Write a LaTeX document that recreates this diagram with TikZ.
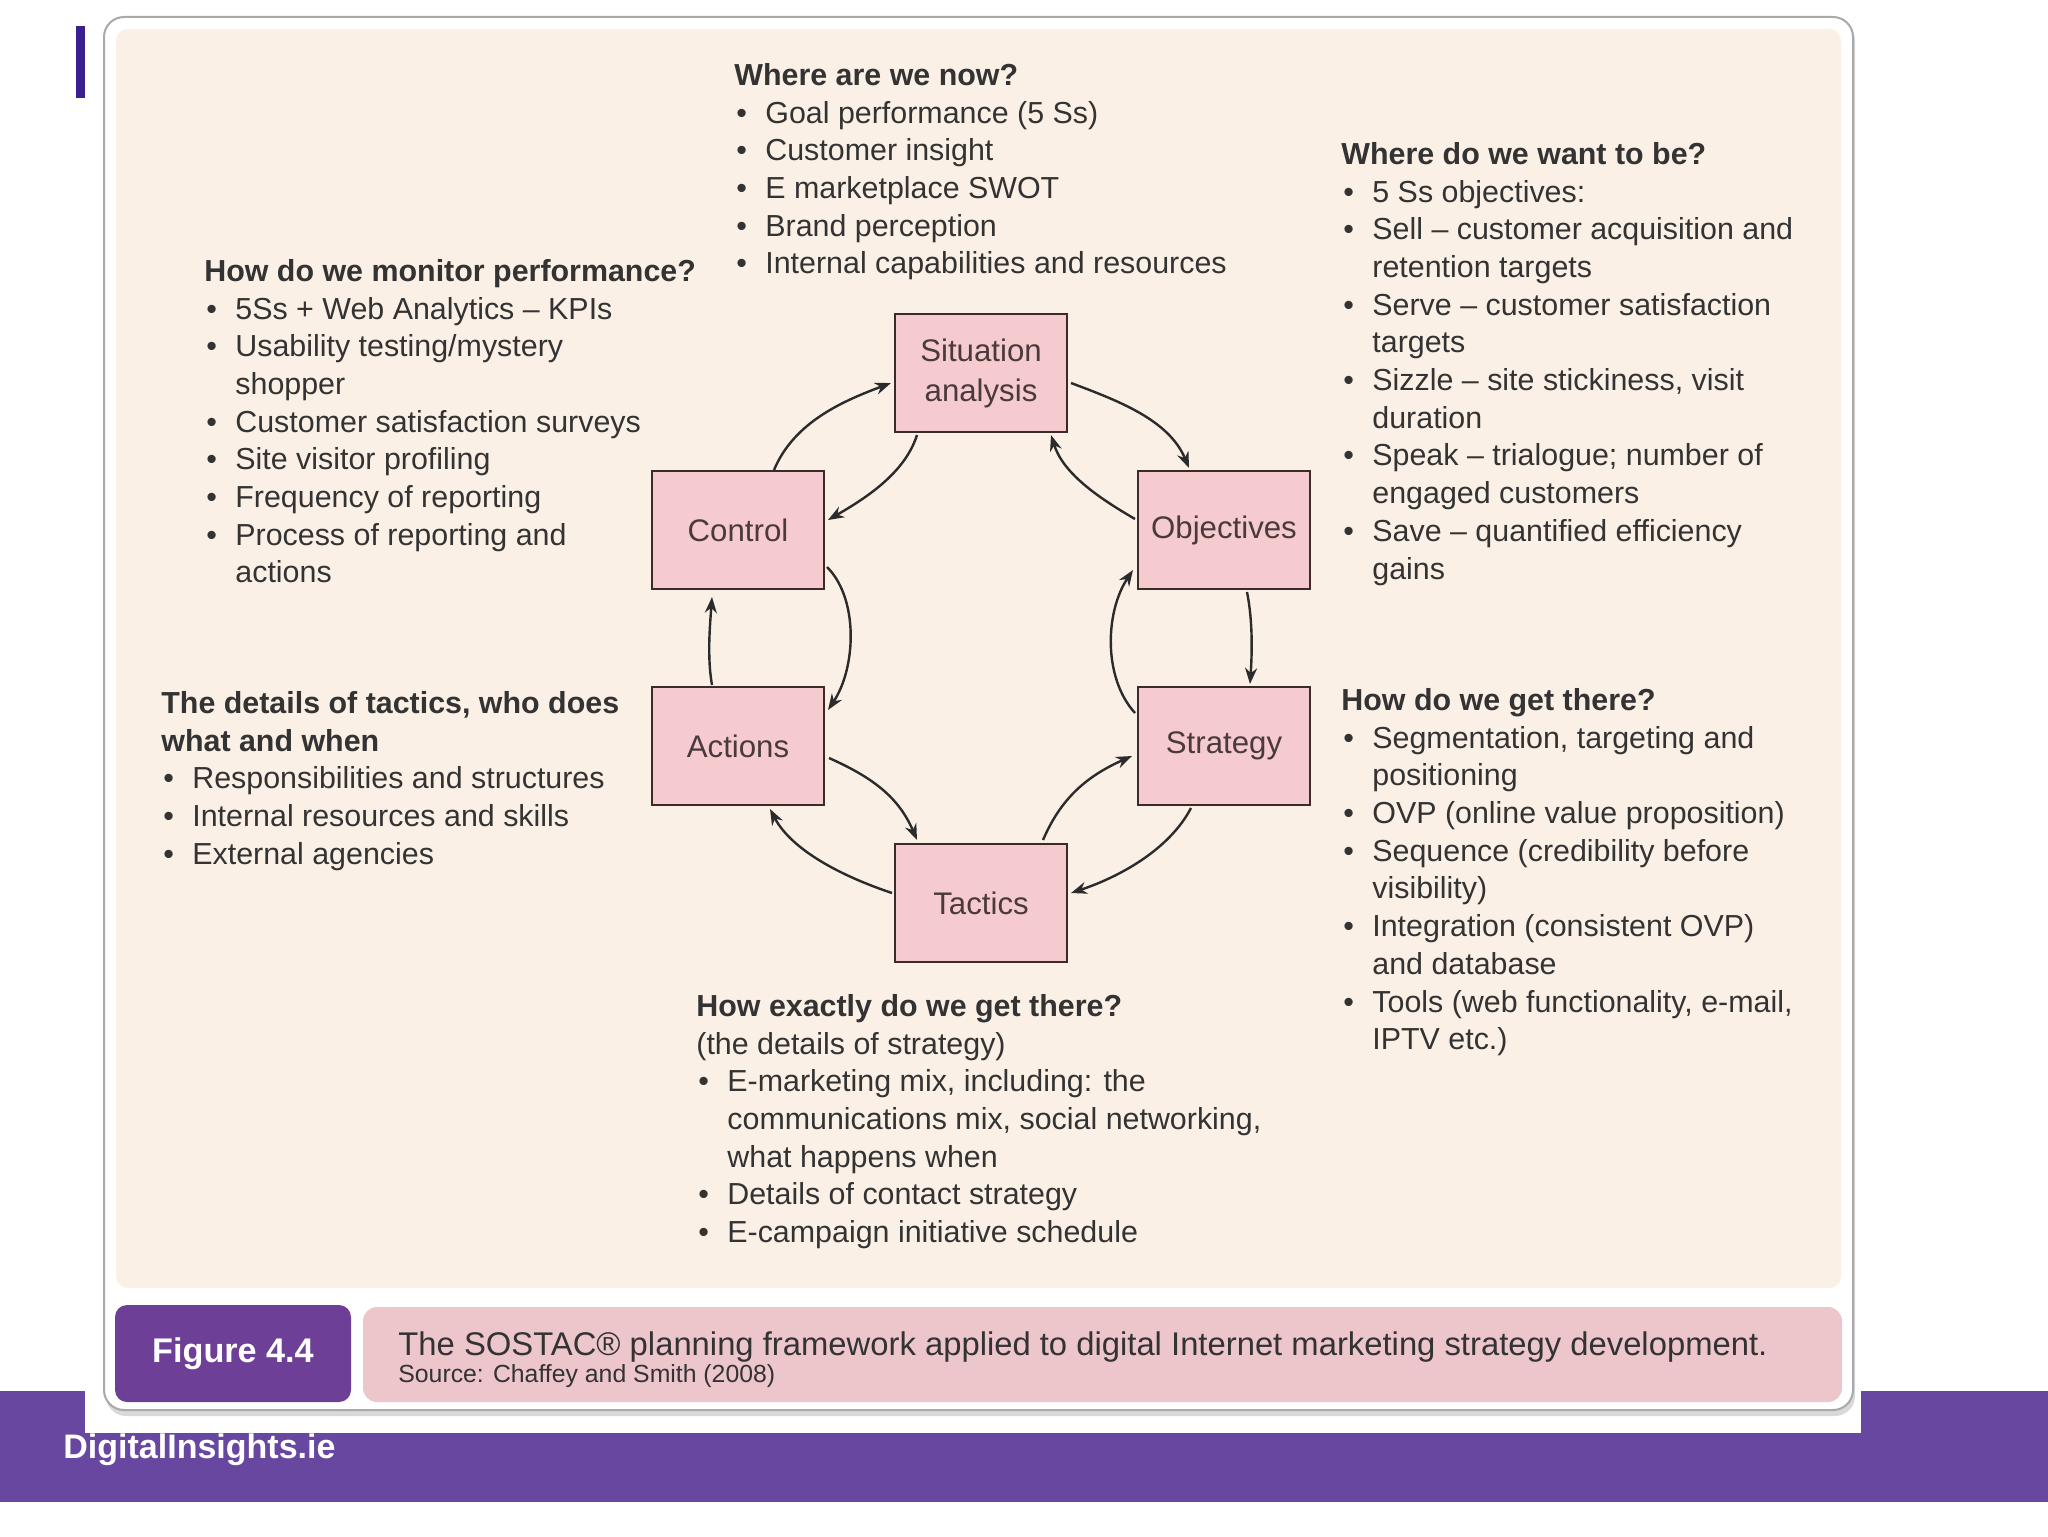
\documentclass[tikz,border=0pt]{standalone}
\usepackage{fontspec}
\setmainfont{Liberation Sans}
\usetikzlibrary{arrows.meta,calc}
\definecolor{cream}{HTML}{FBF0E6}
\definecolor{boxpink}{HTML}{F5CBCF}
\definecolor{boxline}{HTML}{3C2A2A}
\definecolor{txt}{HTML}{333333}
\definecolor{nodetxt}{HTML}{4A3A3C}
\definecolor{arrowc}{HTML}{2B2B2B}
\definecolor{figpurple}{HTML}{6E3F96}
\definecolor{cappink}{HTML}{EDC6CC}
\definecolor{band}{HTML}{6847A0}
\definecolor{indigo}{HTML}{3A1F8E}
\definecolor{framegray}{HTML}{A9A9A9}
\newcommand{\bodyfs}{\fontsize{15.2pt}{18.85pt}\selectfont}
\newcommand{\bit}{\makebox[15.5pt][l]{\hspace{1pt}\textbullet}}
\newcommand{\bco}{\hspace*{15.5pt}}
\begin{document}
\begin{tikzpicture}[x=0.5pt,y=-0.5pt,
  txtblock/.style={anchor=north west, inner sep=0pt, align=left, font=\bodyfs, text=txt},
  stage/.style={draw=boxline, fill=boxpink, line width=1pt, minimum width=86pt, minimum height=59pt, inner sep=0pt, align=center, text=nodetxt, font=\fontsize{15.6pt}{20pt}\selectfont},
  arr/.style={draw=arrowc, line width=1.2pt, -{Stealth[length=8pt,width=6pt]}},
]
% background and slide
\fill[white] (0,0) rectangle (2048,1536);
\useasboundingbox (0,0) rectangle (2048,1536);
\fill[band] (0,1391) rectangle (2048,1502);
\fill[white] (85,1370) rectangle (1861,1433);
\fill[indigo] (76,26) rectangle (85,98);
% frame
\fill[black!15, rounded corners=10pt] (106,21) rectangle (1855,1416);
\filldraw[fill=white, draw=framegray, line width=1pt, rounded corners=10pt] (104,17) rectangle (1853,1410);
\fill[cream, rounded corners=6pt] (116,29) rectangle (1841,1288);
% caption bar
\node[fill=figpurple, rounded corners=6pt, minimum width=118pt, minimum height=48.5pt, inner sep=0pt,
      text=white, font=\bfseries\fontsize{17.1pt}{20pt}\selectfont] (fig) at (233,1353.5) {Figure 4.4};
\node[fill=cappink, rounded corners=7pt, minimum width=739.5pt, minimum height=47.5pt, inner sep=0pt] (capbox) at (1102.5,1354.5) {};
\node[anchor=base west, inner sep=0pt, text=txt, font=\fontsize{16.4pt}{19pt}\selectfont] (captxt) at (398,1355)
  {The SOSTAC® planning framework applied to digital Internet marketing strategy development.};
\node[anchor=base west, inner sep=0pt, text=txt, font=\fontsize{12.4pt}{15pt}\selectfont] (capsrc) at (398,1382)
  {Source: Chaffey and Smith (2008)};
\node[anchor=base west, inner sep=0pt, text=white, font=\bfseries\fontsize{17pt}{20pt}\selectfont] (brand) at (63,1458)
  {DigitalInsights.ie};
% text blocks
\node[txtblock] (now) at (734,58.6) {\strut\textbf{Where are we now?}\\
\bit Goal performance (5 Ss)\\
\bit Customer insight\\
\bit E marketplace SWOT\\
\bit Brand perception\\
\bit Internal capabilities and resources};
\node[txtblock] (mon) at (204,254.6) {\strut\textbf{How do we monitor performance?}\\
\bit 5Ss + Web Analytics – KPIs\\
\bit Usability testing/mystery\\
\bco shopper\\
\bit Customer satisfaction surveys\\
\bit Site visitor profiling\\
\bit Frequency of reporting\\
\bit Process of reporting and\\
\bco actions};
\node[txtblock] (want) at (1341,137.6) {\strut\textbf{Where do we want to be?}\\
\bit 5 Ss objectives:\\
\bit Sell – customer acquisition and\\
\bco retention targets\\
\bit Serve – customer satisfaction\\
\bco targets\\
\bit Sizzle – site stickiness, visit\\
\bco duration\\
\bit Speak – trialogue; number of\\
\bco engaged customers\\
\bit Save – quantified efficiency\\
\bco gains};
\node[txtblock] (det) at (161,686.6) {\strut\textbf{The details of tactics, who does}\\
\textbf{what and when}\\
\bit Responsibilities and structures\\
\bit Internal resources and skills\\
\bit External agencies};
\node[txtblock] (get) at (1341,683.6) {\strut\textbf{How do we get there?}\\
\bit Segmentation, targeting and\\
\bco positioning\\
\bit OVP (online value proposition)\\
\bit Sequence (credibility before\\
\bco visibility)\\
\bit Integration (consistent OVP)\\
\bco and database\\
\bit Tools (web functionality, e-mail,\\
\bco IPTV etc.)};
\node[txtblock] (exact) at (696,989.6) {\strut\textbf{How exactly do we get there?}\\
(the details of strategy)\\
\bit E-marketing mix, including: the\\
\bco communications mix, social networking,\\
\bco what happens when\\
\bit Details of contact strategy\\
\bit E-campaign initiative schedule};
% stages
\node[stage] (sit) at (981,373) {Situation\\analysis};
\node[stage] (ctl) at (738,530) {Control};
\node[stage] (obj) at (1224,530) {Objectives};
\node[stage] (act) at (738,746) {Actions};
\node[stage] (str) at (1224,746) {Strategy};
\node[stage] (tac) at (981,903) {Tactics};
% arrows
\draw[arr] ($(ctl.north)+(36,0)$) .. controls +(20,-48) and +(-48,18) .. ($(sit.west)+(-3,10)$);
\draw[arr] ($(sit.south)+(-64,2)$) .. controls +(-12,38) and +(38,-22) .. ($(ctl.east)+(3,-10)$);
\draw[arr] ($(sit.east)+(3,10)$) .. controls +(48,18) and +(-20,-48) .. ($(obj.north)+(-35,-2)$);
\draw[arr] ($(obj.west)+(-2,-11)$) .. controls +(-38,-22) and +(12,38) .. ($(sit.south)+(70,2)$);
\draw[arr] ($(obj.south)+(23,2)$) .. controls +(6,30) and +(2,-30) .. ($(str.north)+(26,-2)$);
\draw[arr] ($(str.west)+(-2,-33)$) .. controls +(-32,-35) and +(-28,42) .. ($(obj.west)+(-4,40)$);
\draw[arr] ($(ctl.east)+(2,37)$) .. controls +(32,32) and +(28,-42) .. ($(act.east)+(3,-36)$);
\draw[arr] ($(act.north)+(-26,-1)$) .. controls +(-5,-28) and +(-2,28) .. ($(ctl.south)+(-26,7)$);
\draw[arr] ($(act.east)+(4,12)$) .. controls +(45,20) and +(-18,-42) .. ($(tac.north)+(-64,-3)$);
\draw[arr] ($(tac.west)+(-2,-10)$) .. controls +(-48,-16) and +(22,42) .. ($(act.south)+(32,3)$);
\draw[arr] ($(tac.north)+(62,-3)$) .. controls +(18,-42) and +(-45,20) .. ($(str.west)+(-5,10)$);
\draw[arr] ($(str.south)+(-33,2)$) .. controls +(-22,42) and +(48,-16) .. ($(tac.east)+(3,-10)$);
\end{tikzpicture}
\end{document}
